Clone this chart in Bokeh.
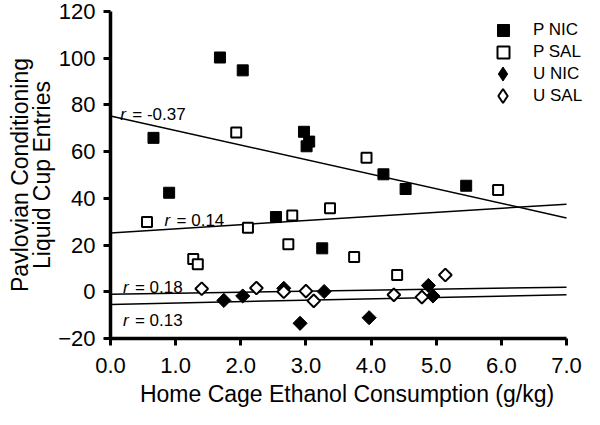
import numpy as np
from bokeh.plotting import figure
from bokeh.models import FixedTicker, Legend, LegendItem, ColumnDataSource
from bokeh.core.properties import value
from bokeh.embed import file_html
from bokeh.resources import INLINE

# ---- data ----
p_nic_x = [0.66, 0.90, 1.68, 2.03, 2.97, 3.05, 3.01, 4.19, 4.53, 5.46, 2.54, 3.25]
p_nic_y = [65.9, 42.4, 100.3, 94.8, 68.5, 64.3, 62.3, 50.3, 44.0, 45.4, 32.0, 18.6]

p_sal_x = [1.93, 3.93, 5.95, 0.56, 1.27, 1.34, 2.11, 2.73, 2.79, 3.37, 3.74, 4.40]
p_sal_y = [68.2, 57.4, 43.6, 29.9, 14.0, 11.8, 27.4, 20.3, 32.7, 35.8, 14.9, 7.2]

u_nic_x = [1.74, 2.03, 2.66, 2.91, 3.28, 3.97, 4.88, 4.95]
u_nic_y = [-3.7, -1.8, 1.5, -13.5, 0.1, -11.1, 2.7, -1.8]

u_sal_x = [1.40, 2.24, 2.66, 3.00, 3.12, 4.35, 4.78, 5.14]
u_sal_y = [1.3, 1.6, 0.0, 0.3, -3.9, -1.3, -2.3, 7.2]

series_names = ["P NIC", "P SAL", "U NIC", "U SAL"]

# regression lines (order: P NIC, P SAL, U SAL, U NIC)
fit_intercept = [75.3, 25.2, -1.1, -5.4]
fit_slope = [-6.24, 1.76, 0.44, 0.59]
r_values = ["-0.37", "0.14", "0.18", "0.13"]

x_ticks = [0, 1, 2, 3, 4, 5, 6, 7]
x_tick_labels = ["0.0", "1.0", "2.0", "3.0", "4.0", "5.0", "6.0", "7.0"]
y_ticks = [-20, 0, 20, 40, 60, 80, 100, 120]

FONT = "Liberation Sans"

p = figure(width=584, height=409, x_range=(0, 7.261), y_range=(-20, 120),
           output_backend="svg", toolbar_location=None,
           min_border_left=110, min_border_right=1,
           min_border_top=11, min_border_bottom=71)
p.outline_line_color = None
p.grid.grid_line_color = None
p.background_fill_color = "white"

for ax in (p.xaxis[0], p.yaxis[0]):
    ax.axis_line_width = 3.5
    ax.axis_line_color = "black"
    ax.major_tick_line_width = 3
    ax.major_tick_line_color = "black"
    ax.major_tick_out = 7
    ax.major_tick_in = 0
    ax.minor_tick_line_color = None
    ax.major_label_text_font = FONT
    ax.major_label_text_font_size = "22px"
    ax.major_label_text_color = "black"
    ax.axis_label_text_font = FONT
    ax.axis_label_text_font_size = "23px"
    ax.axis_label_text_font_style = "normal"
    ax.axis_label_text_color = "black"

p.xaxis.bounds = (0, 7)
p.xaxis.ticker = FixedTicker(ticks=x_ticks)
p.xaxis.major_label_overrides = {t: l for t, l in zip(x_ticks, x_tick_labels)}
p.yaxis.ticker = FixedTicker(ticks=y_ticks)
p.xaxis.axis_label = "Home Cage Ethanol Consumption (g/kg)"
p.yaxis.axis_label = "Pavlovian Conditioning\nLiquid Cup Entries"
p.yaxis.axis_label_text_line_height = 0.87
p.xaxis.major_label_standoff = 12
p.xaxis.axis_label_standoff = 5
p.yaxis.major_label_standoff = 8
p.yaxis.axis_label_standoff = 0

# regression lines
for b, m in zip(fit_intercept, fit_slope):
    xs = np.array([0.0, 7.0])
    p.line(xs, b + m * xs, line_color="black", line_width=1.5)

# r labels
r_label_x = [0.15, 0.83, 0.19, 0.19]
r_label_y = [76.0, 30.5, 1.7, -12.3]
src_r = ColumnDataSource(dict(x=r_label_x, y=r_label_y,
                              r=["r"] * 4, t=["= " + v for v in r_values]))
p.text(x="x", y="y", text="r", source=src_r, text_font=value(FONT),
       text_font_style="italic", text_font_size="17px", text_color="black",
       text_baseline="alphabetic", text_align="left")
p.text(x="x", y="y", text="t", source=src_r, text_font=value(FONT),
       text_font_size="17px", text_color="black", x_offset=12,
       text_baseline="alphabetic", text_align="left")

# scatter markers
r1 = p.scatter(p_nic_x, p_nic_y, marker="square", size=11,
               fill_color="black", line_color="black", line_width=1)
r2 = p.scatter(p_sal_x, p_sal_y, marker="square", size=10,
               fill_color="white", line_color="black", line_width=2)
# diamond-marker layers (hidden under the rotated squares) that give the legend its diamonds
l3 = p.scatter(u_nic_x, u_nic_y, marker="diamond", size=12,
               fill_color="black", line_color="black", line_width=1)
l4 = p.scatter(u_sal_x, u_sal_y, marker="diamond", size=11,
               fill_color="white", line_color="black", line_width=2)
r3 = p.scatter(u_nic_x, u_nic_y, marker="square", size=10, angle=np.pi / 4,
               fill_color="black", line_color="black", line_width=1)
r4 = p.scatter(u_sal_x, u_sal_y, marker="square", size=9, angle=np.pi / 4,
               fill_color="white", line_color="black", line_width=2)

common = dict(border_line_color=None, background_fill_alpha=0, padding=0,
              label_text_font=FONT, label_text_font_size="17px",
              label_text_color="black", margin=0, spacing=0)
leg_specs = [(series_names[0], r1, (378, 293), 30, 15),
             (series_names[1], r2, (378, 271), 30, 15),
             (series_names[2], l3, (375, 247), 35, 13),
             (series_names[3], l4, (375, 225), 35, 13)]
for name, rend, loc, gsize, stand in leg_specs:
    leg = Legend(items=[LegendItem(label=name, renderers=[rend])],
                 location=loc, glyph_width=gsize, glyph_height=gsize,
                 label_height=gsize, label_standoff=stand, **common)
    p.add_layout(leg)

open("out.html", "w").write(file_html(p, INLINE))
